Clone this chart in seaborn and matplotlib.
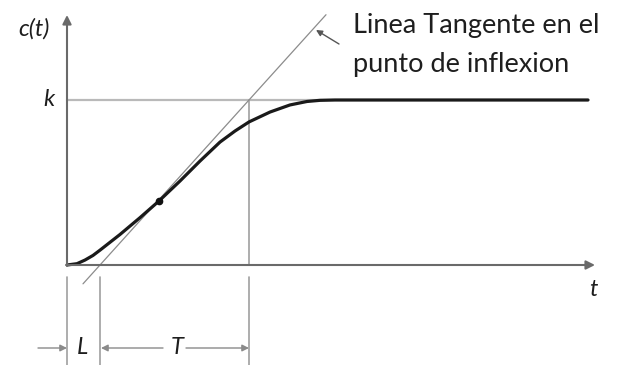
import numpy as np
import pandas as pd
import matplotlib
matplotlib.use('agg')
import matplotlib.pyplot as plt
import seaborn as sns

# step response (k = 1)
t_vals = [0.0, 0.10, 0.18, 0.26, 0.33, 0.53, 0.73, 0.92, 1.13, 1.33, 1.53, 1.68,
          1.82, 2.03, 2.23, 2.40, 2.53, 2.68, 5.21]
c_vals = [0.0, 0.008, 0.030, 0.058, 0.090, 0.185, 0.287, 0.388, 0.509, 0.630, 0.745,
          0.812, 0.867, 0.927, 0.970, 0.991, 0.998, 1.0, 1.0]

k = 1.0
L = 0.33
T = 1.49
inflex = (0.92, 0.388)
tangent_t = [0.16, 2.59]
annot_lines = ['Linea Tangente en el', 'punto de inflexion']

sns.set_style('white')
plt.rcParams['font.family'] = ['Lato', 'DejaVu Sans']

fig = plt.figure(figsize=(6.21, 3.65), dpi=100)
ax = fig.add_axes([0, 0, 1, 1])
# 1 unit in t = 100 px, 1 unit in c = 165 px, origin at px (67, 265)
ax.set_xlim(-0.67, 5.54)
ax.set_ylim(-100 / 165, 265 / 165)
ax.axis('off')

axis_col = '#6a6a6a'
line_col = '#a0a0a0'
text_col = '#1e1e1e'

# k level and vertical at L+T
ax.plot([0, 5.21], [k, k], color='#b9b9b9', lw=1.6, zorder=1)
ax.plot([L + T, L + T], [0, k], color=line_col, lw=1.2, zorder=1)

# tangent line through (L, 0) and (L+T, k)
slope = k / T
ax.plot(tangent_t, [slope * (tt - L) for tt in tangent_t], color='#8c8c8c', lw=0.9, zorder=2)

# curve
df = pd.DataFrame({'t': t_vals, 'c': c_vals})
sns.lineplot(data=df, x='t', y='c', ax=ax, color='#1a1a1a', lw=2.3, zorder=3,
             estimator=None, sort=False)
ax.plot(*inflex, 'o', color='#111111', ms=4.5, zorder=4)

# axes arrows
arr = dict(arrowstyle='-|>', color=axis_col, lw=1.5, mutation_scale=13, shrinkA=0, shrinkB=0)
ax.annotate('', xy=(0, 250 / 165), xytext=(0, -0.005), arrowprops=arr)
ax.annotate('', xy=(5.28, 0), xytext=(-0.005, 0), arrowprops=arr)

# dimension lines below the axis
y_low = (265 - 277) / 165
y_bot = -100 / 165
for xv in [0, L, L + T]:
    ax.plot([xv, xv], [y_low, y_bot], color=line_col, lw=1.2)
y_dim = (265 - 348) / 165
dim = dict(arrowstyle='-|>', color='#8a8a8a', lw=1.0, mutation_scale=10, shrinkA=0, shrinkB=0)
ax.annotate('', xy=(0, y_dim), xytext=(-0.29, y_dim), arrowprops=dim)
ax.annotate('', xy=(L + 0.01, y_dim), xytext=(0.96, y_dim), arrowprops=dim)
ax.annotate('', xy=(L + T, y_dim), xytext=(1.19, y_dim), arrowprops=dim)

# labels
lab = dict(color=text_col, fontsize=17, style='italic', ha='center', va='center')
ax.text(-0.33, (265 - 29) / 165, 'c(t)', **lab)
ax.text(-0.18, k, 'k', **lab)
ax.text(5.26, (265 - 290) / 165, 't', **lab)
ax.text(0.15, y_dim, 'L', **lab)
ax.text(1.10, y_dim, 'T', **lab)

# annotation for tangent line
ax.annotate('', xy=(2.49, (265 - 30) / 165), xytext=(2.72, (265 - 44) / 165),
            arrowprops=dict(arrowstyle='-|>', color='#555555', lw=1.0,
                            mutation_scale=9, shrinkA=0, shrinkB=0))
ax.text(2.86, (265 - 33) / 165, annot_lines[0], color=text_col, fontsize=19.5,
        ha='left', va='baseline')
ax.text(2.86, (265 - 72) / 165, annot_lines[1], color=text_col, fontsize=19.5,
        ha='left', va='baseline')

fig.savefig('out.png', dpi=100)
